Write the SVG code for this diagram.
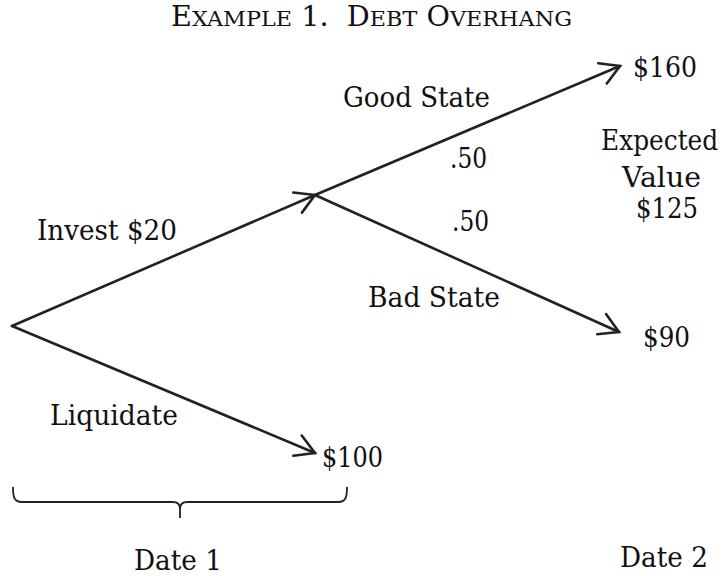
<svg xmlns="http://www.w3.org/2000/svg" width="726" height="576" viewBox="0 0 726 576">
  <style>
    text { font-family: "DejaVu Serif", "Liberation Serif", serif; font-size: 27px; fill: #111; }
    .sc { font-size: 21px; }
    .edge { fill: none; stroke: #222; stroke-width: 2.6; stroke-linecap: round; }
    .brace { fill: none; stroke: #222; stroke-width: 1.8; }
  </style>
  <defs>
    <marker id="arrow" viewBox="-26 -16 32 32" refX="0" refY="0" markerWidth="32" markerHeight="32" markerUnits="userSpaceOnUse" orient="auto">
      <path d="M-19,-11 L0,0 L-19,11" fill="none" stroke="#222" stroke-width="2.6" stroke-linecap="round" stroke-linejoin="miter"/>
    </marker>
  </defs>
  <rect width="726" height="576" fill="#fff"/>

  <g id="title">
    <text x="171" y="26" textLength="401" lengthAdjust="spacingAndGlyphs" xml:space="preserve">E<tspan class="sc">XAMPLE</tspan> 1.  D<tspan class="sc">EBT</tspan> O<tspan class="sc">VERHANG</tspan></text>
  </g>

  <g id="connectors">
    <line class="edge" x1="12" y1="326" x2="315" y2="195" marker-end="url(#arrow)"/>
    <line class="edge" x1="315" y1="195" x2="620" y2="66" marker-end="url(#arrow)"/>
    <line class="edge" x1="315" y1="195" x2="619" y2="332" marker-end="url(#arrow)"/>
    <line class="edge" x1="12" y1="326" x2="315" y2="453" marker-end="url(#arrow)"/>
  </g>

  <g id="label-invest"><text x="37" y="240" textLength="140" lengthAdjust="spacingAndGlyphs">Invest $20</text></g>
  <g id="label-liquidate"><text x="50" y="425" textLength="128" lengthAdjust="spacingAndGlyphs">Liquidate</text></g>
  <g id="label-good"><text x="343" y="107" textLength="147" lengthAdjust="spacingAndGlyphs">Good State</text></g>
  <g id="prob-good"><text x="450" y="168" textLength="37" lengthAdjust="spacingAndGlyphs">.50</text></g>
  <g id="prob-bad"><text x="452" y="231" textLength="37" lengthAdjust="spacingAndGlyphs">.50</text></g>
  <g id="label-bad"><text x="368" y="307" textLength="132" lengthAdjust="spacingAndGlyphs">Bad State</text></g>

  <g id="outcome-160"><text x="633" y="77" textLength="64" lengthAdjust="spacingAndGlyphs">$160</text></g>
  <g id="outcome-90"><text x="643" y="347" textLength="47" lengthAdjust="spacingAndGlyphs">$90</text></g>
  <g id="outcome-100"><text x="322" y="467" textLength="61" lengthAdjust="spacingAndGlyphs">$100</text></g>

  <g id="expected-value">
    <text transform="translate(601 150) scale(0.92 1)" x="0" y="0">Expected</text>
    <text x="622" y="187" textLength="79" lengthAdjust="spacingAndGlyphs">Value</text>
    <text x="636" y="218" textLength="62" lengthAdjust="spacingAndGlyphs">$125</text>
  </g>

  <g id="date1-brace">
    <path class="brace" d="M13,487 C13,497 14,502 22,502 L172,502 C178,502 180,504 180,510 L180,518 M180,510 C180,504 182,502 188,502 L338,502 C346,502 347,497 347,487"/>
  </g>
  <g id="date1"><text x="134" y="570" textLength="88" lengthAdjust="spacingAndGlyphs">Date 1</text></g>
  <g id="date2"><text x="620" y="567" textLength="88" lengthAdjust="spacingAndGlyphs">Date 2</text></g>
</svg>
